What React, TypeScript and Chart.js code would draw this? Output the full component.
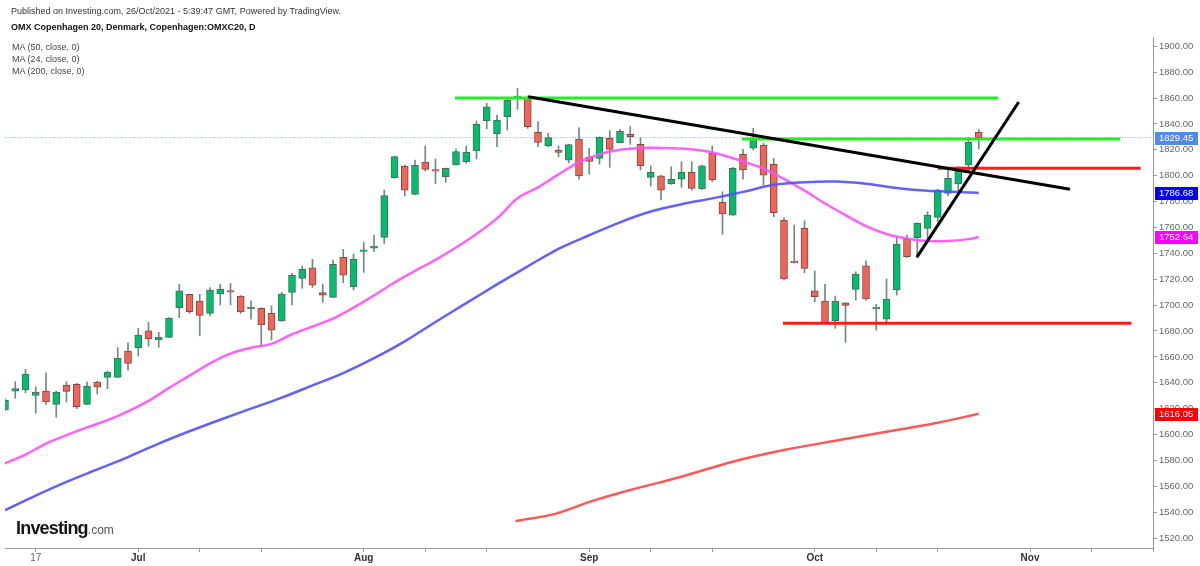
import React, { useEffect, useRef } from "react";
import { Chart, registerables } from "chart.js";

Chart.register(...registerables);

// Trading-day index 0 = 14 Jun 2021 (weekends skipped)
const openP = [
  1619, 1633.5, 1634.4, 1630.3, 1633.6, 1623.3, 1638.0, 1638.8, 1623.3, 1640.6,
  1644.2, 1644.2, 1664.5, 1667.1, 1680.2, 1673.1, 1675.1, 1698.0, 1708.3, 1703.2,
  1693.6, 1708.6, 1710.9, 1707.0, 1697.2, 1697.5, 1693.6, 1687.7, 1709.9, 1720.7,
  1728.9, 1709.6, 1706.0, 1736.9, 1714.2, 1741.5, 1744.1, 1752.4, 1798.4, 1807.2,
  1785.6, 1810.6, 1804.6, 1799.0, 1808.3, 1810.8, 1819.1, 1842.5, 1832.4, 1845.6,
  1860.3, 1860.3, 1833.5, 1823.0, 1819.8, 1812.1, 1828.3, 1814.2, 1813.4, 1828.9,
  1825.5, 1832.0, 1824.2, 1798.7, 1800.0, 1793.6, 1797.4, 1802.6, 1789.7, 1817.3,
  1779.4, 1769.6, 1816.5, 1821.2, 1823.5, 1808.8, 1765.8, 1733.5, 1759.3, 1711.1,
  1703.2, 1688.0, 1701.8, 1712.2, 1730.4, 1697.3, 1689.2, 1711.7, 1751.1, 1752.1,
  1759.3, 1767.8, 1786.4, 1793.6, 1808.3, 1833.5,
];
const highP = [
  1627.5, 1640.8, 1650.4, 1636.9, 1647.7, 1633.5, 1640.8, 1639.6, 1640.8, 1641.4,
  1649.1, 1667.1, 1670.9, 1682.1, 1686.7, 1679.0, 1690.3, 1716.1, 1708.6, 1708.3,
  1713.5, 1716.1, 1716.8, 1707.3, 1703.4, 1698.0, 1699.5, 1709.9, 1724.6, 1730.2,
  1735.4, 1716.3, 1734.8, 1743.1, 1739.5, 1748.5, 1754.2, 1788.9, 1815.2, 1808.3,
  1812.1, 1823.0, 1812.9, 1806.0, 1820.6, 1823.0, 1842.3, 1855.9, 1846.9, 1859.0,
  1867.5, 1861.6, 1841.8, 1832.8, 1823.2, 1824.2, 1837.1, 1821.2, 1830.0, 1834.8,
  1835.8, 1837.9, 1829.4, 1807.5, 1800.3, 1806.9, 1810.8, 1810.8, 1808.3, 1823.0,
  1787.6, 1806.5, 1820.4, 1836.6, 1825.0, 1813.4, 1767.5, 1761.9, 1765.2, 1726.3,
  1716.1, 1707.0, 1702.0, 1725.8, 1734.3, 1700.6, 1720.2, 1752.4, 1754.2, 1763.7,
  1772.2, 1789.7, 1805.7, 1807.0, 1829.7, 1835.8,
];
const lowP = [
  1618.5, 1628.0, 1632.3, 1616.4, 1623.3, 1613.3, 1625.1, 1619.9, 1623.0, 1631.3,
  1635.4, 1644.0, 1649.8, 1660.6, 1668.4, 1667.4, 1674.8, 1690.3, 1693.6, 1676.3,
  1691.6, 1700.1, 1700.1, 1693.6, 1689.2, 1668.4, 1673.0, 1687.5, 1700.1, 1713.0,
  1713.7, 1702.1, 1705.8, 1717.3, 1711.7, 1725.3, 1741.3, 1747.7, 1798.0, 1784.3,
  1785.4, 1803.6, 1793.8, 1794.9, 1808.1, 1809.6, 1812.9, 1836.3, 1822.4, 1835.3,
  1851.3, 1836.6, 1822.4, 1822.4, 1814.7, 1810.0, 1797.4, 1801.1, 1809.0, 1806.5,
  1825.3, 1824.2, 1804.4, 1792.1, 1781.2, 1793.3, 1791.0, 1788.9, 1789.5, 1795.3,
  1754.7, 1769.4, 1797.4, 1819.8, 1792.8, 1768.3, 1719.4, 1732.5, 1725.0, 1702.6,
  1685.7, 1682.1, 1671.2, 1703.9, 1703.9, 1680.7, 1685.4, 1707.8, 1736.9, 1737.4,
  1750.3, 1764.4, 1784.6, 1788.2, 1803.9, 1820.6,
];
const closeP = [
  1626.6, 1635.5, 1646.7, 1632.8, 1625.1, 1632.8, 1633.4, 1621.5, 1637.5, 1636.5,
  1648.3, 1658.9, 1655.0, 1676.9, 1673.8, 1675.1, 1689.8, 1711.1, 1694.9, 1692.1,
  1711.7, 1712.4, 1710.1, 1694.7, 1698.0, 1684.6, 1680.7, 1708.6, 1723.2, 1727.6,
  1715.5, 1707.6, 1731.5, 1723.2, 1735.6, 1742.3, 1745.7, 1784.6, 1814.7, 1788.9,
  1808.0, 1804.9, 1803.6, 1805.7, 1818.6, 1818.1, 1839.7, 1853.3, 1843.0, 1858.3,
  1860.8, 1837.9, 1825.8, 1829.4, 1818.1, 1824.0, 1799.8, 1811.1, 1829.7, 1820.4,
  1834.5, 1830.1, 1807.7, 1802.6, 1788.9, 1797.2, 1802.6, 1790.2, 1807.7, 1796.7,
  1770.4, 1805.7, 1804.4, 1828.3, 1800.5, 1771.4, 1720.2, 1732.8, 1728.4, 1706.5,
  1685.9, 1703.2, 1699.8, 1724.0, 1704.7, 1697.7, 1704.7, 1747.2, 1737.4, 1763.2,
  1769.4, 1788.9, 1798.0, 1805.2, 1825.8, 1829.45,
];

// Moving averages (x = trading-day index)
const ma24X = [0, 2, 4, 6, 8, 10, 12, 14, 16, 18, 20, 22, 24, 26, 28, 30, 32, 34, 36, 38, 40, 42, 44, 46, 48, 50, 52, 54, 56, 58, 60, 62, 64, 66, 68, 70, 72, 74, 76, 78, 80, 82, 84, 86, 88, 90, 92, 94, 95];
const ma24Y = [1577.7, 1584.5, 1593, 1599.5, 1605.5, 1611, 1617.8, 1626, 1636, 1645.5, 1655, 1662.5, 1667, 1670, 1677.5, 1683.5, 1689.5, 1698, 1707.5, 1717.5, 1726.5, 1735, 1744.5, 1755, 1767, 1782.5, 1791, 1801, 1810.5, 1816.5, 1820, 1821.5, 1821.5, 1821, 1819.5, 1816, 1811, 1805.5, 1797.5, 1788.5, 1778.5, 1769.5, 1761, 1755, 1751.5, 1749.5, 1749.5, 1751, 1752.64];
const ma50X = [0, 3, 6, 9, 12, 15, 18, 21, 24, 27, 30, 33, 36, 39, 42, 45, 48, 51, 54, 57, 60, 63, 66, 69, 72, 75, 78, 81, 84, 87, 90, 93, 95];
const ma50Y = [1541.6, 1552.8, 1563.4, 1573, 1582.6, 1593, 1602.5, 1611.4, 1620, 1628.5, 1638, 1647.5, 1659, 1672, 1687, 1701.5, 1716, 1730, 1743.5, 1754, 1764, 1772.3, 1778, 1782.5, 1787.5, 1793, 1795, 1795.5, 1793.8, 1790.5, 1788.3, 1787.5, 1786.68];
const ma200X = [49.8, 53.6, 57.1, 61, 66, 71, 76, 81, 86, 91, 95];
const ma200Y = [1533.1, 1538.5, 1548.1, 1557.1, 1567.4, 1579, 1588, 1595.2, 1602.1, 1609.1, 1616.05];

// Drawn levels and trend lines
const greenLineX = [[43.9, 96.9], [71.9, 108.8]];
const greenLineY = [1860, 1828.4];
const redLineX = [[91, 110.8], [75.9, 109.9]];
const redLineY = [1805.7, 1685.9];
const trendLineX = [[51.05, 103.9], [88.95, 98.9]];
const trendLineY = [[1861, 1789.5], [1736.9, 1857]];

// Axes
const xMin = 0;
const xMax = 112;
const xTickIndex = [3, 13, 19, 25, 35, 41, 47, 57, 63, 69, 79, 85, 91, 100, 106, 112];
const xTickText = ["17", "Jul", "", "", "Aug", "", "", "Sep", "", "", "Oct", "", "", "Nov", "", ""];
const yTicks = [1520, 1540, 1560, 1580, 1600, 1620, 1640, 1660, 1680, 1700, 1720, 1740, 1760, 1780, 1800, 1820, 1840, 1860, 1880, 1900];
const yMin = 1512.3;
const yMax = 1907.2;

const FONT = '"Liberation Sans", Arial, Helvetica, sans-serif';
const UP = "#00be6e";
const DOWN = "#f26457";
const UP_BORDER = "#4b6b5a";
const DOWN_BORDER = "#7e4a44";
const WICK = "#6f8c7d";

const pts = (xs: number[], ys: number[]) => xs.map((x, i) => ({ x, y: ys[i] }));

const lastLabels = {
  id: "lastLabels",
  afterDraw(chart: any) {
    const ctx = chart.ctx;
    const ys = chart.scales.y;
    const right = chart.chartArea.right;
    const items: [number, string][] = [
      [closeP[closeP.length - 1], "#5588ee"],
      [ma50Y[ma50Y.length - 1], "#0000ff"],
      [ma24Y[ma24Y.length - 1], "#ff00ff"],
      [ma200Y[ma200Y.length - 1], "#ff0000"],
    ];
    ctx.save();
    ctx.font = `9.5px ${FONT}`;
    ctx.textBaseline = "middle";
    ctx.textAlign = "left";
    for (const [v, c] of items) {
      const py = Math.round(ys.getPixelForValue(v));
      ctx.fillStyle = c;
      ctx.fillRect(right + 2, py - 6, 43, 13);
      ctx.fillStyle = "#ffffff";
      ctx.fillText(v.toFixed(2), right + 6, py + 0.5);
    }
    ctx.restore();
  },
};

export default function App() {
  const ref = useRef<HTMLCanvasElement | null>(null);

  useEffect(() => {
    if (!ref.current) return;
    const idx = closeP.map((_, i) => i);
    const lastClose = closeP[closeP.length - 1];

    const lineDs = (data: any[], color: string, width: number, order: number, extra: any = {}) => ({
      type: "line" as const,
      data,
      borderColor: color,
      borderWidth: width,
      pointRadius: 0,
      fill: false,
      tension: 0,
      order,
      ...extra,
    });

    const datasets: any[] = [
      // drawings on top
      ...trendLineX.map((xs, k) => lineDs(pts(xs, trendLineY[k]), "#000000", 3, 0)),
      ...greenLineX.map((xs, k) => lineDs(pts(xs, [greenLineY[k], greenLineY[k]]), "#22ee22", 3, 1)),
      ...redLineX.map((xs, k) => lineDs(pts(xs, [redLineY[k], redLineY[k]]), "#ff1a1a", 3, 1)),
      // moving averages
      lineDs(pts(ma50X, ma50Y), "rgba(80,80,255,0.9)", 2.5, 2, { tension: 0.3 }),
      lineDs(pts(ma24X, ma24Y), "rgba(255,80,255,0.9)", 2.5, 2, { tension: 0.3 }),
      lineDs(pts(ma200X, ma200Y), "rgba(255,70,70,0.9)", 2.5, 2, { tension: 0.3 }),
      // candle bodies
      {
        type: "bar",
        data: idx.map((i) => ({ x: i, y: [openP[i], closeP[i]] })),
        backgroundColor: idx.map((i) => (closeP[i] >= openP[i] ? UP : DOWN)),
        borderColor: idx.map((i) => (closeP[i] >= openP[i] ? UP_BORDER : DOWN_BORDER)),
        borderWidth: 1,
        borderSkipped: false,
        barThickness: 7,
        minBarLength: 1.5,
        grouped: false,
        order: 3,
      },
      // wicks
      {
        type: "bar",
        data: idx.map((i) => ({ x: i, y: [lowP[i], highP[i]] })),
        backgroundColor: WICK,
        borderWidth: 0,
        barThickness: 1,
        grouped: false,
        order: 4,
      },
      // last price dotted line
      lineDs(pts([xMin, xMax], [lastClose, lastClose]), "#98ade6", 1, 5, { borderDash: [1, 1.5] }),
    ];

    const chart = new Chart(ref.current, {
      type: "bar",
      data: { datasets },
      options: {
        responsive: false,
        animation: false,
        events: [],
        layout: { padding: { left: 5, top: 37, right: 0, bottom: 0 } },
        plugins: {
          legend: { display: false },
          tooltip: { enabled: false },
          title: { display: false },
        },
        scales: {
          x: {
            type: "linear",
            min: xMin,
            max: xMax,
            offset: false,
            grid: { drawOnChartArea: false, drawTicks: true, tickLength: 4, color: "#999999", offset: false },
            border: { color: "#999999", width: 1 },
            ticks: {
              autoSkip: false,
              maxRotation: 0,
              padding: 0,
              color: (c: any) => (c.tick && c.tick.label === "17" ? "#666666" : "#333333"),
              font: (c: any) => ({
                family: FONT,
                size: 10,
                weight: c.tick && c.tick.label && c.tick.label !== "17" ? "bold" : "normal",
              }),
              callback: (v: any) => {
                const k = xTickIndex.indexOf(Number(v));
                return k >= 0 ? xTickText[k] : "";
              },
            },
            afterBuildTicks: (axis: any) => {
              axis.ticks = xTickIndex.map((v) => ({ value: v }));
            },
            afterFit: (axis: any) => {
              axis.height = 18;
            },
          },
          y: {
            type: "linear",
            position: "right",
            min: yMin,
            max: yMax,
            grid: { drawOnChartArea: false, drawTicks: true, tickLength: 4, color: "#999999" },
            border: { color: "#999999", width: 1 },
            ticks: {
              padding: 2,
              color: "#666666",
              font: { family: FONT, size: 9.5 },
              callback: (v: any) => Number(v).toFixed(2),
            },
            afterBuildTicks: (axis: any) => {
              axis.ticks = yTicks.map((v) => ({ value: v }));
            },
            afterFit: (axis: any) => {
              axis.width = 47;
            },
          },
        },
      } as any,
      plugins: [lastLabels],
    });
    return () => chart.destroy();
  }, []);

  const txt = (top: number, content: string, style: any = {}) => (
    <div
      style={{
        position: "absolute",
        left: 11,
        top,
        fontFamily: FONT,
        fontSize: 9,
        lineHeight: "12px",
        whiteSpace: "nowrap",
        color: "#333",
        ...style,
      }}
    >
      {content}
    </div>
  );

  return (
    <div style={{ position: "fixed", left: 0, top: 0, width: 1200, height: 566, background: "#ffffff", overflow: "hidden" }}>
      <canvas ref={ref} width={1200} height={566} style={{ position: "absolute", left: 0, top: 0, width: 1200, height: 566 }} />
      {txt(5, "Published on Investing.com, 26/Oct/2021 - 5:39:47 GMT, Powered by TradingView.")}
      {txt(21, "OMX Copenhagen 20, Denmark, Copenhagen:OMXC20, D", { fontWeight: "bold", color: "#111" })}
      {txt(41, "MA (50, close, 0)", { left: 12, color: "#444" })}
      {txt(53, "MA (24, close, 0)", { left: 12, color: "#444" })}
      {txt(65, "MA (200, close, 0)", { left: 12, color: "#444" })}
      <div
        style={{
          position: "absolute",
          left: 16,
          top: 519,
          fontFamily: FONT,
          whiteSpace: "nowrap",
          lineHeight: "18px",
        }}
      >
        <span style={{ fontSize: 18, fontWeight: "bold", letterSpacing: "-0.8px", color: "#151515" }}>Investing</span>
        <span style={{ fontSize: 12, color: "#555" }}>.com</span>
      </div>
    </div>
  );
}
